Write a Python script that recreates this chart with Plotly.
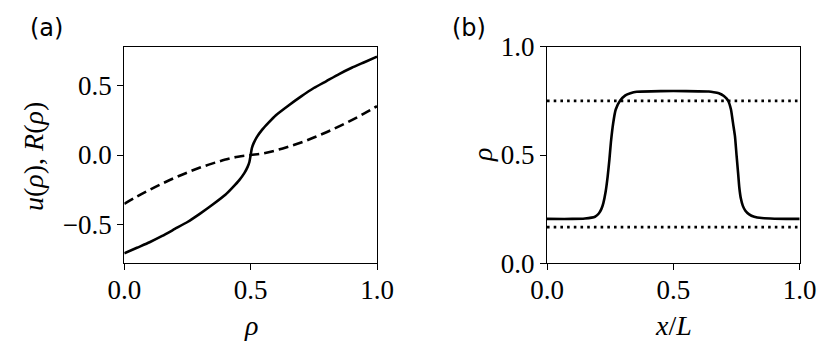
import plotly.graph_objects as go
from plotly.subplots import make_subplots

# panel (a): u(rho) solid, R(rho) dashed
rho_u = [0.0, 0.05, 0.1, 0.15, 0.2, 0.25, 0.3, 0.35, 0.4, 0.43, 0.455, 0.475, 0.488, 0.495, 0.5,
         0.505, 0.512, 0.525, 0.545, 0.57, 0.6, 0.65, 0.7, 0.75, 0.8, 0.85, 0.9, 0.95, 1.0]
u_vals = [-0.705, -0.665, -0.625, -0.58, -0.53, -0.48, -0.42, -0.355, -0.285, -0.23, -0.18, -0.13, -0.085, -0.05, 0.0,
          0.05, 0.085, 0.13, 0.18, 0.23, 0.285, 0.355, 0.42, 0.48, 0.53, 0.58, 0.625, 0.665, 0.705]

rho_r = [0.0, 0.05, 0.1, 0.15, 0.2, 0.25, 0.3, 0.35, 0.4, 0.45, 0.5,
         0.55, 0.6, 0.65, 0.7, 0.75, 0.8, 0.85, 0.9, 0.95, 1.0]
r_vals = [-0.35, -0.298, -0.25, -0.205, -0.163, -0.125, -0.09, -0.06, -0.033, -0.012, 0.0,
          0.012, 0.033, 0.06, 0.09, 0.125, 0.163, 0.205, 0.25, 0.298, 0.35]

# panel (b): density profile rho(x/L) and the two dotted levels
x_prof = [0.0, 0.1, 0.15, 0.19, 0.205, 0.215, 0.223, 0.232, 0.24, 0.247, 0.253, 0.262, 0.272, 0.289,
          0.31, 0.33, 0.355, 0.45, 0.55, 0.64, 0.66, 0.68, 0.7, 0.717, 0.728, 0.737, 0.744, 0.75,
          0.756, 0.761, 0.767, 0.775, 0.785, 0.8, 0.82, 0.85, 0.9, 1.0]
rho_prof = [0.205, 0.205, 0.207, 0.215, 0.23, 0.25, 0.278, 0.33, 0.4, 0.48, 0.56, 0.648, 0.71, 0.75,
            0.775, 0.785, 0.792, 0.795, 0.795, 0.793, 0.79, 0.785, 0.772, 0.75, 0.71, 0.64, 0.585, 0.5,
            0.42, 0.35, 0.3, 0.265, 0.243, 0.226, 0.215, 0.209, 0.206, 0.205]
levels = [0.75, 0.167]
x_ends = [0.0, 1.0]

W, H, OFF = 831, 355, 8  # page body margin shifts the plot by 8px


def px_x(p):
    return (p - OFF) / W


def px_y(p):
    return 1 - (p - OFF) / H


fig = make_subplots(rows=1, cols=2)

fig.add_trace(go.Scatter(x=rho_u, y=u_vals, mode="lines",
                         line=dict(color="black", width=2.6, shape="spline", smoothing=0.6)), 1, 1)
fig.add_trace(go.Scatter(x=rho_r, y=r_vals, mode="lines",
                         line=dict(color="black", width=2.6, dash="10px,5px", shape="spline")), 1, 1)
fig.add_trace(go.Scatter(x=x_prof, y=rho_prof, mode="lines",
                         line=dict(color="black", width=2.6, shape="spline", smoothing=0.5)), 1, 2)
for lv in levels:
    fig.add_trace(go.Scatter(x=x_ends, y=[lv, lv], mode="lines",
                             line=dict(color="black", width=2.6, dash="2.6px,4.1px")), 1, 2)

serif = "Liberation Serif, Times New Roman, DejaVu Serif, serif"
tickfont = dict(family=serif, size=27, color="black")
ax = dict(showline=True, mirror=True, linecolor="black", linewidth=1.3, ticks="outside",
          ticklen=6, tickwidth=1.3, tickcolor="black", showgrid=False, zeroline=False,
          tickfont=tickfont, tickformat=".1f", automargin=False)

fig.update_layout(
    width=W, height=H, margin=dict(l=0, r=0, t=0, b=0, autoexpand=False),
    font=dict(family=serif, color="black"),
    paper_bgcolor="white", plot_bgcolor="white", showlegend=False,
    xaxis=dict(ax, domain=[px_x(124.3), px_x(377)], range=[0, 1], tickvals=[0, 0.5, 1],
               ticklabelstandoff=-4),
    yaxis=dict(ax, domain=[px_y(263.3), px_y(46.7)], range=[-0.776, 0.776], tickvals=[-0.5, 0, 0.5]),
    xaxis2=dict(ax, domain=[px_x(547), px_x(799.7)], range=[0, 1], tickvals=[0, 0.5, 1],
                ticklabelstandoff=-4),
    yaxis2=dict(ax, domain=[px_y(263.3), px_y(46.7)], range=[0, 1], tickvals=[0, 0.5, 1]),
)

labfont = dict(family=serif, size=28, color="black")
notes = [
    dict(text="(a)", x=46.5, y=28, font=dict(family="DejaVu Sans", size=24, color="black")),
    dict(text="(b)", x=469, y=28, font=dict(family="DejaVu Sans", size=24, color="black")),
    dict(text="<i>u</i>(<i>ρ</i>), <i>R</i>(<i>ρ</i>)", x=33, y=157, textangle=-90, font=labfont),
    dict(text="<i>ρ</i>", x=482, y=155, textangle=-90, font=labfont),
    dict(text="<i>ρ</i>", x=250.7, y=325, font=labfont),
    dict(text="<i>x</i>/<i>L</i>", x=673, y=325, font=labfont),
]
for n in notes:
    fig.add_annotation(text=n["text"], x=px_x(n["x"]), y=px_y(n["y"]), xref="paper", yref="paper",
                       showarrow=False, xanchor="center", yanchor="middle",
                       textangle=n.get("textangle", 0), font=n["font"])

fig.write_html("out.html")
